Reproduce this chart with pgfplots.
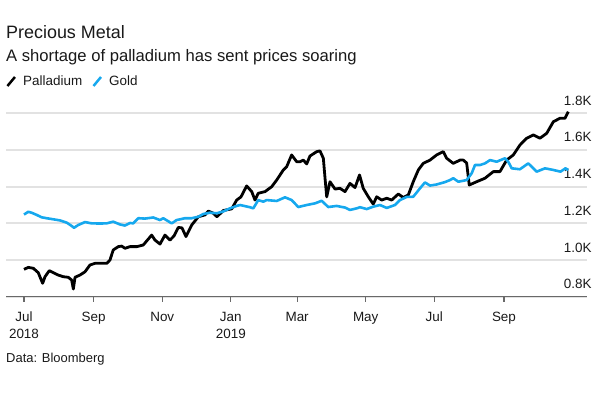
\documentclass[border=0pt]{standalone}
\usepackage{fontspec}
\setmainfont{Liberation Sans}
\usepackage{pgfplots}
\pgfplotsset{compat=1.18}
\definecolor{goldblue}{RGB}{22,168,238}
\definecolor{gridgray}{RGB}{226,226,226}
\definecolor{axgray}{RGB}{105,105,105}
\definecolor{txt}{RGB}{25,25,25}
\begin{document}
\begin{tikzpicture}[x=1bp,y=1bp]
\path (0,0) rectangle (600,-400);
\node[anchor=base west, inner sep=0, text=txt] at (6,-38) {\fontsize{18}{20}\selectfont Precious Metal};
\node[anchor=base west, inner sep=0, text=txt] at (6,-61) {\fontsize{16.7}{20}\selectfont A shortage of palladium has sent prices soaring};
\node[anchor=base west, inner sep=0, text=txt] at (6,-362) {\fontsize{13}{15}\selectfont Data: Bloomberg};
\begin{axis}[
  at={(6bp,-296.7bp)}, anchor=south west,
  scale only axis, width=580.7bp, height=183.4bp,
  xmin=-16, xmax=500.6, ymin=800, ymax=1800,
  clip=false,
  axis x line*=bottom, axis y line*=right,
  y axis line style={draw=none},
  x axis line style={draw=axgray, line width=1.3bp, -},
  xtick={0,62,123,184,243,304,365,427},
  xticklabels={Jul\\2018,Sep,Nov,Jan\\2019,Mar,May,Jul,Sep},
  xticklabel style={align=center, font=\fontsize{13.5}{17}\selectfont, text=txt, yshift=-7bp},
  xtick style={draw=axgray, line width=1.1bp},
  tick align=outside, major tick length=5bp,
  ytick={800,1000,1200,1400,1600,1800},
  yticklabels={0.8K,1.0K,1.2K,1.4K,1.6K,1.8K},
  ytick style={draw=none},
  yticklabel style={anchor=base east, inner sep=0pt, yshift=8bp, font=\fontsize{13.5}{16}\selectfont, text=txt},
  ymajorgrids, grid style={gridgray, line width=1.8bp},
  legend style={at={(0,1)}, anchor=south west, xshift=-3bp, yshift=22bp, draw=none, fill=none,
    font=\fontsize{13.5}{16}\selectfont, text=txt,
    /tikz/every odd column/.append style={column sep=5bp},
    /tikz/every even column/.append style={column sep=8bp}},
  legend columns=2,
  legend image code/.code={\draw[#1, line width=2.5bp] (0bp,-4.5bp) -- (7.5bp,4.5bp);},
]
\addplot[black, line width=2.8bp, line join=round] coordinates {
(0,949) (3.8,960) (8.3,955) (12.7,931) (16.6,873) (18.7,909) (22.5,942) (26.1,931)
(30.5,918) (35,909) (39.4,906) (42.4,891) (43.9,842) (45.4,906) (49.8,918) (54.3,936)
(58.7,973) (63.2,982) (67.6,982) (73.6,982) (76.5,1000) (79.4,1055) (83.9,1073) (86.9,1076)
(89.9,1064) (94.3,1073) (100.3,1073) (106.1,1082) (113.6,1136) (116.5,1109) (121,1087) (125.4,1136)
(129.9,1109) (133.4,1131) (137.3,1178) (140.6,1175) (144.1,1128) (149.2,1191) (155.1,1236) (161,1246)
(164,1267) (168.4,1255) (171.7,1236) (177.3,1270) (184.8,1279) (189.2,1327) (193,1344) (198.1,1404)
(202.6,1373) (205.5,1327) (208.4,1364) (214.4,1373) (220.4,1400) (224.8,1436) (230.7,1491) (233.7,1509)
(238.1,1573) (242.6,1536) (245.5,1536) (248.5,1545) (251.5,1524) (254.4,1567) (260.4,1591) (263.3,1595)
(266.3,1555) (267.8,1447) (269.3,1344) (272.2,1427) (276.7,1387) (281.1,1391) (285.6,1373) (290,1418)
(294.5,1395) (298.5,1464) (301.8,1391) (306.3,1345) (310.7,1305) (313.8,1345) (318.2,1327) (322.7,1337)
(327.1,1327) (333,1360) (337.4,1341) (341.9,1355) (346.3,1427) (350.8,1491) (355.2,1527) (361.2,1545)
(367.1,1573) (373,1591) (376,1555) (381.9,1527) (387.9,1545) (390.8,1545) (393.8,1529) (396.1,1409)
(402.7,1427) (410.1,1446) (417.5,1482) (423.4,1482) (429.4,1545) (435.3,1573) (441.2,1627) (447.2,1664)
(453.1,1682) (459,1664) (465,1691) (470.9,1754) (476.8,1773) (481.3,1773) (484.2,1809)
};
\addlegendentry{Palladium}
\addplot[goldblue, line width=2.6bp, line join=round] coordinates {
(0,1248) (3.8,1263) (6.8,1258) (11.3,1246) (15.7,1233) (20.2,1228) (26.1,1222) (32,1216)
(38,1204) (42.4,1186) (44.5,1176) (48.3,1191) (54.3,1207) (60.2,1200) (67.6,1199) (73.6,1200)
(79.4,1209) (85.4,1194) (89.8,1188) (94.3,1202) (97.2,1200) (101.7,1228) (107.6,1226) (115,1232)
(121,1218) (123.9,1228) (131.4,1200) (135.8,1218) (143.2,1228) (149.2,1228) (155.1,1236) (159.5,1251)
(165.5,1258) (171.4,1255) (177.3,1265) (183.3,1282) (189.2,1295) (192.2,1300) (201,1288) (204,1282)
(208.4,1327) (212.9,1318) (215.9,1327) (224.8,1322) (232.2,1342) (238.1,1327) (244,1289) (251.5,1300)
(258.9,1309) (264.8,1323) (270.7,1289) (278.2,1295) (285.6,1286) (290,1273) (296,1282) (298.9,1288)
(304.9,1278) (310.7,1291) (316.7,1300) (322.7,1284) (330,1300) (334.5,1327) (340.5,1344) (346.3,1345)
(352.3,1391) (356.7,1423) (361.2,1406) (367.1,1412) (374.5,1425) (379,1436) (381.9,1446) (386.4,1427)
(393.8,1436) (398.3,1473) (401.2,1518) (405.7,1518) (410.1,1527) (414.6,1545) (420.5,1536) (427.9,1555)
(430.8,1536) (433.9,1500) (441.2,1495) (448.6,1527) (456.1,1482) (463.5,1500) (470.9,1491) (477.3,1482)
(481.7,1500) (484.2,1491)
};
\addlegendentry{Gold}
\end{axis}
\end{tikzpicture}
\end{document}
